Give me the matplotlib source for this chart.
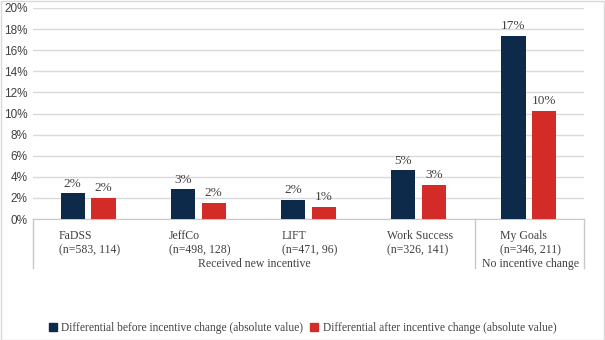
import matplotlib
matplotlib.use("Agg")
import matplotlib.pyplot as plt
from matplotlib.lines import Line2D
from matplotlib.patches import Rectangle
import numpy as np

categories = ["FaDSS\n(n=583, 114)", "JeffCo\n(n=498, 128)", "LIFT\n(n=471, 96)",
              "Work Success\n(n=326, 141)", "My Goals\n(n=346, 211)"]
before = [2.46, 2.84, 1.82, 4.64, 17.35]
after = [2.0, 1.55, 1.15, 3.25, 10.25]
before_labels = ["2%", "3%", "2%", "5%", "17%"]
after_labels = ["2%", "2%", "1%", "3%", "10%"]
groups = ["Received new incentive", "No incentive change"]
legend_labels = ["Differential before incentive change (absolute value)",
                 "Differential after incentive change (absolute value)"]

NAVY = "#0d2a4a"
RED = "#d32b27"
GRID = "#d9d9d9"
TXT = "#404040"
SERIF = ["Liberation Serif", "DejaVu Serif"]

W, H = 605, 340
fig = plt.figure(figsize=(W / 100, H / 100), dpi=100)
x0, x1, y0, y1 = 33, 584, 219, 8
ax = fig.add_axes([x0 / W, 1 - y0 / H, (x1 - x0) / W, (y0 - y1) / H])

x = np.arange(len(categories))
bw = 0.22
off = 0.14
b1 = ax.bar(x - off, before, bw, color=NAVY, zorder=3)
b2 = ax.bar(x + off, after, bw, color=RED, zorder=3)

for bars, labs in ((b1, before_labels), (b2, after_labels)):
    for r, lab in zip(bars, labs):
        ax.annotate(lab, (r.get_x() + r.get_width() / 2, r.get_height()),
                    xytext=(0, 2.5), textcoords="offset points", ha="center",
                    va="bottom", fontsize=9.5, color=TXT, family=SERIF)

ax.set_xlim(-0.5, len(categories) - 0.5)
ax.set_ylim(0, 20)
ax.set_yticks(np.arange(0, 21, 2))
ax.set_yticklabels([f"{v}%" for v in range(0, 21, 2)], color=TXT, fontsize=8.5,
                   family="Liberation Sans")
ax.yaxis.grid(True, color=GRID, linewidth=1, zorder=0)
ax.tick_params(axis="y", length=0, pad=4)
ax.tick_params(axis="x", length=0, labelbottom=False)
for s in ["top", "right", "left"]:
    ax.spines[s].set_visible(False)
ax.spines["bottom"].set_color("#c8c8c8")

# category labels (block centred, lines left-aligned)
xfig = matplotlib.transforms.blended_transform_factory(ax.transData, fig.transFigure)
for i, c in enumerate(categories):
    ax.text(i + 0.01, 1 - 230 / H, c, transform=xfig, ha="center",
            va="top", multialignment="left", fontsize=8.5, color=TXT, family=SERIF,
            linespacing=1.2)

# group separators and labels
sep_x = [x0, 475, x1]
for sx in sep_x:
    fig.add_artist(Line2D([sx / W, sx / W], [1 - y0 / H, 1 - 268 / H],
                          color="#c8c8c8", linewidth=1))
fig.text(254 / W, 1 - 264 / H, groups[0], ha="center", va="center",
         fontsize=8.5, color=TXT, family=SERIF)
fig.text(530 / W, 1 - 264 / H, groups[1], ha="center", va="center",
         fontsize=8.5, color=TXT, family=SERIF)

# legend
handles = [Rectangle((0, 0), 1, 1, color=NAVY), Rectangle((0, 0), 1, 1, color=RED)]
leg = fig.legend(handles, legend_labels, loc="center", bbox_to_anchor=(0.5, 1 - 328 / H),
                 ncol=2, frameon=False, handlelength=0.7, handleheight=0.7,
                 handletextpad=0.4, columnspacing=0.6,
                 prop={"family": SERIF, "size": 8.3})
for t in leg.get_texts():
    t.set_color(TXT)

# outer border
fig.add_artist(Rectangle((0.5 / W, 0.5 / H), 1 - 1.5 / W, 1 - 1.5 / H, fill=False,
                         edgecolor="#d9d9d9", linewidth=1, transform=fig.transFigure))

fig.savefig("out.png", dpi=100)
